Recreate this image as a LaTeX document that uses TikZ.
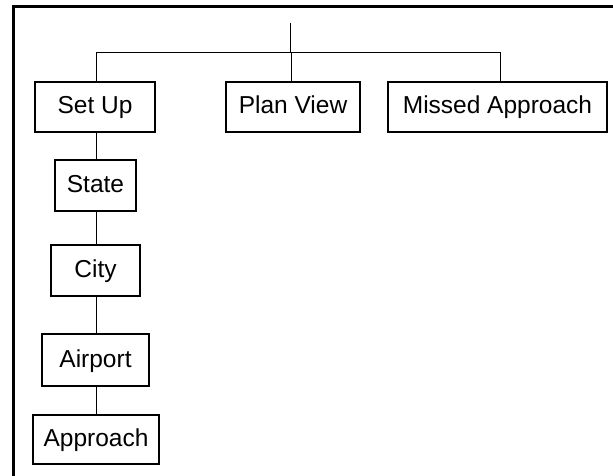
\documentclass[tikz,border=0pt]{standalone}
\usepackage{fontspec}
\setmainfont{Liberation Sans}
\begin{document}
\begin{tikzpicture}[x=1pt,y=-1pt,
  box/.style={draw,line width=1.2pt,inner sep=0pt,text height=18pt,text depth=4pt,font=\fontsize{24.5}{28}\selectfont},
  link/.style={line width=1pt}]
\useasboundingbox (0,0) rectangle (613,476);
\draw[line width=3pt] (13,476) -- (13,7) -- (613,7);
\node[box,minimum width=120pt,minimum height=50pt] (setup) at (95,107) {Set Up};
\node[box,minimum width=134pt,minimum height=50pt] (plan) at (293,107) {Plan View};
\node[box,minimum width=219pt,minimum height=50pt] (missed) at (497.5,107) {Missed Approach};
\node[box,minimum width=81pt,minimum height=51pt] (state) at (95.5,185.5) {State};
\node[box,minimum width=89pt,minimum height=51pt] (city) at (95.5,270.5) {City};
\node[box,minimum width=107pt,minimum height=52pt] (airport) at (95.5,360) {Airport};
\node[box,minimum width=126pt,minimum height=49pt] (approach) at (96,439.5) {Approach};
\coordinate (top) at (290,23);
\coordinate (bus) at (290,53);
\draw[link] (top) -- (bus);
\draw[link] (setup.north -| 96,0) -- (96,53) -- (500,53) -- (missed.north -| 500,0);
\draw[link] (291,53) -- (plan.north -| 291,0);
\draw[link] (setup.south -| 96,0) -- (state.north -| 96,0);
\draw[link] (state.south -| 96,0) -- (city.north -| 96,0);
\draw[link] (city.south -| 96,0) -- (airport.north -| 96,0);
\draw[link] (airport.south -| 96,0) -- (approach.north -| 96,0);
\end{tikzpicture}
\end{document}
